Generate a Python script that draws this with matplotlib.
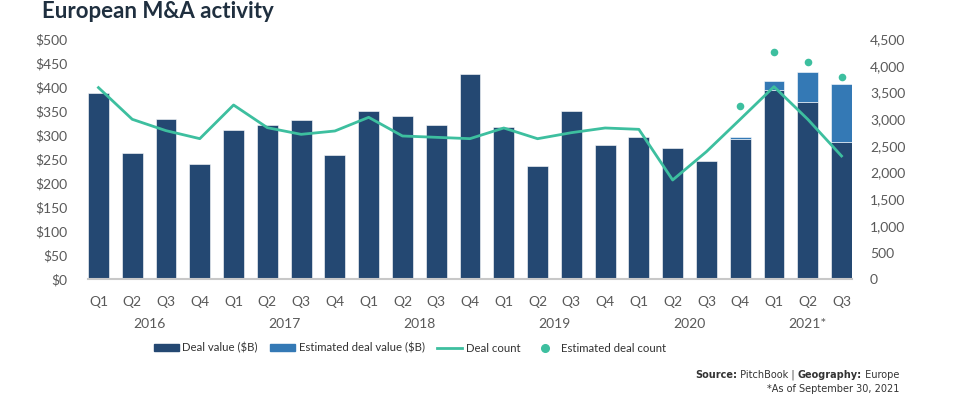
import numpy as np
import matplotlib
matplotlib.use("Agg")
import matplotlib.pyplot as plt
from matplotlib.patches import Patch
from matplotlib.lines import Line2D

# quarterly data, 2016 Q1 .. 2021 Q3
quarters = ["Q1", "Q2", "Q3", "Q4"] * 5 + ["Q1", "Q2", "Q3"]
years = ["2016", "2017", "2018", "2019", "2020", "2021*"]
deal_value = [389, 263, 334, 241, 312, 321, 331, 260, 350, 340, 321, 427,
              318, 237, 350, 279, 296, 273, 247, 292, 394, 369, 286]
est_deal_value = [np.nan] * 19 + [296, 414, 432, 407]
deal_count = [3594, 3000, 2787, 2637, 3268, 2843, 2718, 2781, 3037, 2687, 2662, 2637,
              2837, 2636, 2749, 2837, 2812, 1862, 2393, 3000, 3612, 3000, 2312]
est_deal_count = [np.nan] * 19 + [3250, 4256, 4081, 3793]

DARK = "#244872"
EST = "#3479b5"
TEAL = "#3dbf9f"
GREY = "#595959"

plt.rcParams["font.family"] = ["Lato", "DejaVu Sans"]

fig = plt.figure(figsize=(9.8, 4.0), dpi=100)
ax = fig.add_axes([88 / 980, 1 - 279.3 / 400, (852 - 88) / 980, 240 / 400])
ax2 = ax.twinx()

x = np.arange(len(deal_value))
w = 0.62
dv = np.array(deal_value, dtype=float)
ev = np.array(est_deal_value, dtype=float)
ax.bar(x, dv, width=w, color=DARK, edgecolor="white", linewidth=0.4, zorder=2)
ax.bar(x, ev - dv, bottom=dv, width=w, color=EST, edgecolor="white", linewidth=0.4, zorder=2)

ax2.plot(x, deal_count, color=TEAL, linewidth=2, zorder=3)
ax2.scatter(x, est_deal_count, s=30, color=TEAL, zorder=3, linewidths=0)

ax.set_xlim(-w / 2, len(x) - 1 + w / 2)
ax.set_ylim(0, 500)
ax2.set_ylim(0, 4500)
ax.set_yticks(range(0, 501, 50))
ax.set_yticklabels([f"${v}" for v in range(0, 501, 50)])
ax2.set_yticks(range(0, 4501, 500))
ax2.set_yticklabels([f"{v:,}" for v in range(0, 4501, 500)])
ax.set_xticks(x)
ax.set_xticklabels(quarters)

for a in (ax, ax2):
    for s in a.spines.values():
        s.set_visible(False)
    a.tick_params(length=0, colors=GREY, labelsize=10)
ax.spines["bottom"].set_visible(True)
ax.spines["bottom"].set_color("#c8c8c8")
ax.spines["bottom"].set_linewidth(1.5)
ax.tick_params(axis="y", pad=15)
ax.tick_params(axis="x", pad=12)
ax2.tick_params(axis="y", pad=13)

# year labels under each group
for i, yr in enumerate(years):
    n = 4 if i < 5 else 3
    cx = i * 4 + (n - 1) / 2
    ax.text(cx, -0.185, yr, transform=ax.get_xaxis_transform(), ha="center", va="center",
            fontsize=10, color=GREY)

fig.text(42 / 980, 1 - 12 / 400, "European M&A activity", fontsize=16, fontweight="bold",
         color="#1f2f3f", va="center", ha="left")

handles = [Patch(color=DARK), Patch(color=EST),
           Line2D([], [], color=TEAL, linewidth=2),
           Line2D([], [], marker="o", color=TEAL, linestyle="none", markersize=5.5)]
labels = ["Deal value ($B)", "Estimated deal value ($B)", "Deal count", "Estimated deal count"]
fig.legend(handles, labels, loc="center", bbox_to_anchor=(410 / 980, 1 - 348 / 400), ncol=4,
           frameon=False, fontsize=8.2, handlelength=2.2, handleheight=0.5,
           columnspacing=1.1, handletextpad=0.3, labelcolor="#333333")

# source note, with bold pieces
fig.canvas.draw()
rend = fig.canvas.get_renderer()
def right_text(pieces, xr, y):
    xpos = xr
    for txt, bold in reversed(pieces):
        t = fig.text(xpos, y, txt, ha="right", va="center", fontsize=7,
                     fontfamily="DejaVu Sans",
                     fontweight="bold" if bold else "normal", color="#333333")
        bb = t.get_window_extent(rend)
        xpos = bb.x0 / fig.bbox.width
right_text([("Source:", True), (" PitchBook | ", False), ("Geography:", True), (" Europe", False)],
           899 / 980, 1 - 375 / 400)
right_text([("*As of September 30, 2021", False)], 899 / 980, 1 - 389 / 400)

fig.savefig("out.png", dpi=100)
